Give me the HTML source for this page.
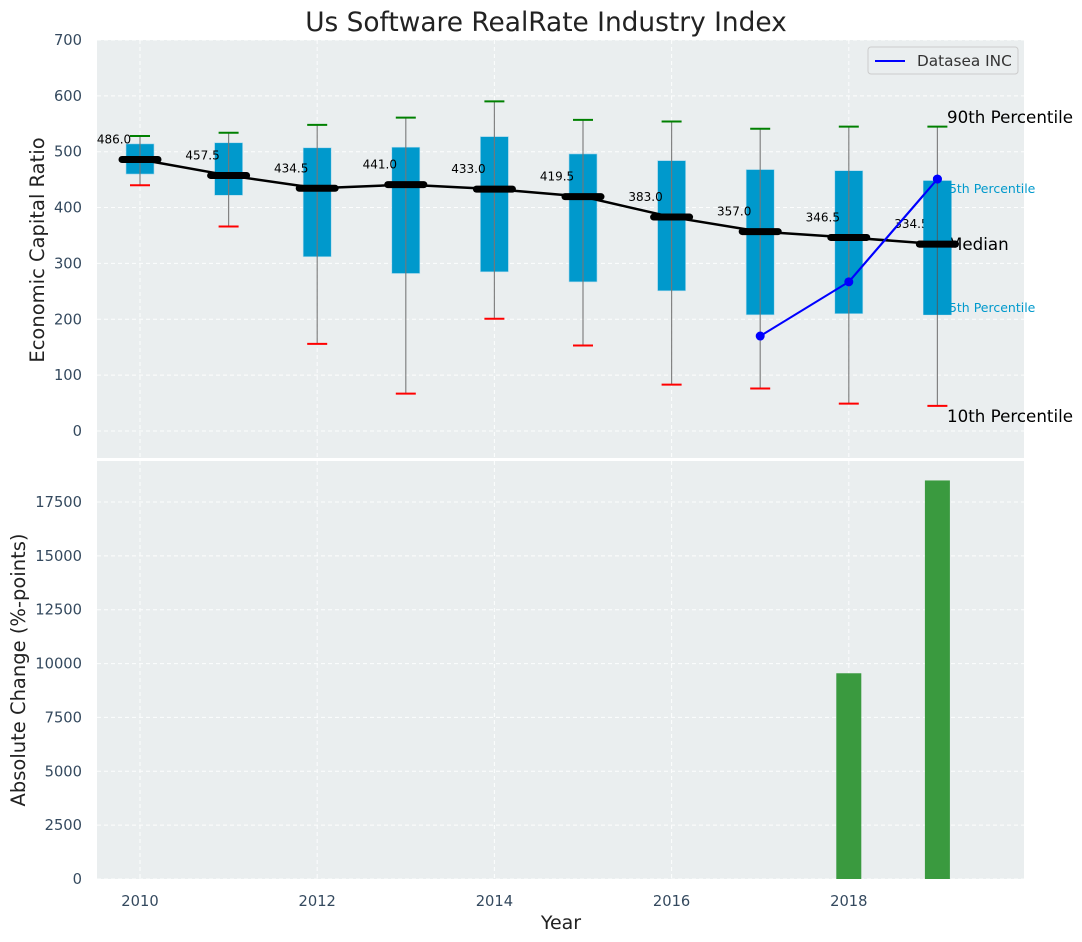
<!DOCTYPE html>
<html><head><meta charset="utf-8">
<style>
html,body{margin:0;padding:0;background:#fff;}
svg{display:block;font-family:"DejaVu Sans","Liberation Sans",sans-serif;}
</style></head>
<body>
<svg id="chart" width="1082" height="942" xmlns="http://www.w3.org/2000/svg"></svg>
<script>
const years = [2010,2011,2012,2013,2014,2015,2016,2017,2018,2019];
const p90 = [528,534,548,561,590,557,554,541,545,545];
const q3 = [514,516,507,508,527,496,484,468,466,448];
const medians = [486.0,457.5,434.5,441.0,433.0,419.5,383.0,357.0,346.5,334.5];
const q1 = [460,422,312,282,285,267,251,208,210,208];
const p10 = [440,366,156,67,201,153,83,76,49,45];
const compYears = [2017,2018,2019];
const compValues = [170,267,451];
const changeYears = [2018,2019];
const changeValues = [9550,18500];
const topTicks = [0,100,200,300,400,500,600,700];
const bottomTicks = [0,2500,5000,7500,10000,12500,15000,17500];
const xTicks = [2010,2012,2014,2016,2018];

const NS='http://www.w3.org/2000/svg';
const svg=document.getElementById('chart');
function mk(tag,attrs,parent){const e=document.createElementNS(NS,tag);for(const k in attrs)e.setAttribute(k,attrs[k]);(parent||svg).appendChild(e);return e;}
const L=97,R=1024,T1=40,B1=458,T2=461,B2=879;
const xS=v=>140+(v-2010)*88.6;
const yT=v=>431-v*0.5586;
const yB=v=>879-v*0.021543;

let e=mk('rect',{x:L,y:T1,width:R-L,height:B1-T1,fill:'#eaeeef'});


e=mk('rect',{x:L,y:T2,width:R-L,height:B2-T2,fill:'#eaeeef'});



const grid=mk('g',{stroke:'#ffffff','stroke-width':1,'stroke-dasharray':'4,3',opacity:0.9});


topTicks.forEach(t=>mk('line',{x1:L,x2:R,y1:yT(t),y2:yT(t)},grid));
bottomTicks.forEach(t=>mk('line',{x1:L,x2:R,y1:yB(t),y2:yB(t)},grid));
xTicks.forEach(t=>{mk('line',{x1:xS(t),x2:xS(t),y1:T1,y2:B1},grid);mk('line',{x1:xS(t),x2:xS(t),y1:T2,y2:B2},grid);});

topTicks.forEach(t=>{const tx=mk('text',{x:82,y:yT(t)+5,'text-anchor':'end','font-size':14.7,fill:'#34495e'});tx.textContent=t;

});
bottomTicks.forEach(t=>{const tx=mk('text',{x:82,y:yB(t)+5,'text-anchor':'end','font-size':14.7,fill:'#34495e'});tx.textContent=t;

});
xTicks.forEach(t=>{const tx=mk('text',{x:xS(t),y:906,'text-anchor':'middle','font-size':14.7,fill:'#34495e'});tx.textContent=t;

});

years.forEach((yr,i)=>{
  const g=mk('g',{});
  
  
  const x=xS(yr);
  mk('rect',{x:x-14,y:yT(q3[i]),width:28,height:yT(q1[i])-yT(q3[i]),fill:'#0099cc',stroke:'#a8d8ec','stroke-width':0.6},g);
  mk('line',{x1:x,x2:x,y1:yT(p90[i]),y2:yT(p10[i]),stroke:'#777','stroke-width':1.2,opacity:0.9},g);
  mk('line',{x1:x-10,x2:x+10,y1:yT(p90[i]),y2:yT(p90[i]),stroke:'#008000','stroke-width':2},g);
  mk('line',{x1:x-10,x2:x+10,y1:yT(p10[i]),y2:yT(p10[i]),stroke:'#ff0000','stroke-width':2},g);
});
let pts=years.map((yr,i)=>xS(yr)+','+yT(medians[i])).join(' ');
e=mk('polyline',{points:pts,fill:'none',stroke:'#000','stroke-width':2.5});


years.forEach((yr,i)=>{
  const x=xS(yr);
  const m=mk('line',{x1:x-18,x2:x+18,y1:yT(medians[i]),y2:yT(medians[i]),stroke:'#000','stroke-width':7,'stroke-linecap':'round'});
  
  
  const t=mk('text',{x:x-26,y:yT(medians[i])-16,'text-anchor':'middle','font-size':12,fill:'#000'});
  t.textContent=medians[i].toFixed(1);
  
  
});
pts=compYears.map((yr,i)=>xS(yr)+','+yT(compValues[i])).join(' ');
e=mk('polyline',{points:pts,fill:'none',stroke:'#0000ff','stroke-width':2});


compYears.forEach((yr,i)=>{const c=mk('circle',{cx:xS(yr),cy:yT(compValues[i]),r:4.5,fill:'#0000ff'});

});

const ann=[['90th Percentile',947,123,16.7,'#000'],['75th Percentile',941,193,12.5,'#0099cc'],['Median',948,250,16.7,'#000'],['25th Percentile',941,312,12.5,'#0099cc'],['10th Percentile',947,422,16.7,'#000']];
ann.forEach(a=>{const t=mk('text',{x:a[1],y:a[2],'font-size':a[3],fill:a[4]});t.textContent=a[0];

});
(function(){const i=9,x=xS(2019);
mk('rect',{x:x-14,y:yT(q3[i]),width:28,height:yT(q1[i])-yT(q3[i]),fill:'#0099cc'});
mk('line',{x1:x,x2:x,y1:yT(q3[i]),y2:yT(q1[i]),stroke:'#555','stroke-width':1.2,opacity:0.7});
mk('line',{x1:x-18,x2:x+18,y1:yT(medians[i]),y2:yT(medians[i]),stroke:'#000','stroke-width':7,'stroke-linecap':'round'});
mk('polyline',{points:xS(2018)+','+yT(compValues[1])+' '+x+','+yT(compValues[2]),fill:'none',stroke:'#0000ff','stroke-width':2});
mk('circle',{cx:x,cy:yT(compValues[2]),r:4.5,fill:'#0000ff'});
})();
e=mk('rect',{x:1074,y:0,width:8,height:942,fill:'#fff'});

changeYears.forEach((yr,i)=>{const b=mk('rect',{x:xS(yr)-12.5,y:yB(changeValues[i]),width:25,height:B2-yB(changeValues[i]),fill:'#3a9a3f'});

});

const lg=mk('g',{});


mk('rect',{x:868,y:47,width:150,height:27,rx:3,fill:'#eaeeef',stroke:'#cccccc'},lg);
mk('line',{x1:875,x2:905,y1:61,y2:61,stroke:'#0000ff','stroke-width':2},lg);
let t=mk('text',{x:917,y:66,'font-size':15.3,fill:'#333'},lg);t.textContent='Datasea INC';

t=mk('text',{x:546,y:31,'text-anchor':'middle','font-size':26.4,fill:'#222'});t.textContent='Us Software RealRate Industry Index';


t=mk('text',{x:44,y:250,'text-anchor':'middle','font-size':19.5,fill:'#222',transform:'rotate(-90 44 250)'});t.textContent='Economic Capital Ratio';


t=mk('text',{x:25,y:670,'text-anchor':'middle','font-size':19.5,fill:'#222',transform:'rotate(-90 25 670)'});t.textContent='Absolute Change (%-points)';


t=mk('text',{x:561,y:929,'text-anchor':'middle','font-size':19,fill:'#222'});t.textContent='Year';


</script>
</body></html>
